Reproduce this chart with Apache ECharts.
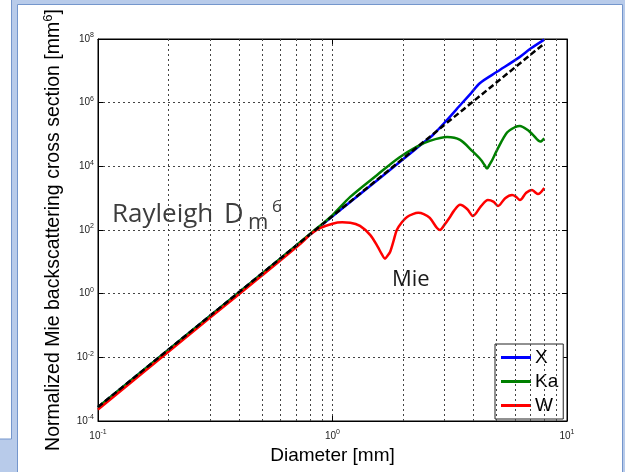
<!DOCTYPE html>
<html>
<head>
<meta charset="utf-8">
<script src="https://cdn.jsdelivr.net/npm/echarts@6/dist/echarts.min.js"></script>
<style>
html,body{margin:0;padding:0;background:#fff;}
#chart{width:625px;height:472px;}
</style>
</head>
<body>
<div id="chart"></div>
<script>
// ---- Data (Diameter [mm] -> normalized cross section [mm^6]) ----
const rayleighD   = [0.1, 8.0];
const rayleighVal = [2.75e-4, 7.2e7];

const xBandD   = [0.1, 0.5, 1.0, 1.6, 2.0, 2.43, 2.68, 3.08, 3.57, 3.9, 4.26, 5.03, 6.3, 7.0, 8.0];
const xBandVal = [2.7e-4, 4.27, 269, 4365, 16600, 53700, 96600, 288000, 977000, 2.0e6, 4.17e6, 9.33e6, 2.75e7, 5.0e7, 9.55e7];

const kaBandD   = [0.1, 0.5, 0.86, 1.0, 1.19, 1.55, 1.92, 2.29, 2.6, 3.08, 3.5, 3.97, 4.3, 4.45, 4.56, 4.67, 4.8, 5.03, 5.55, 6.0, 6.3, 6.8, 7.16, 7.7, 8.0];
const kaBandVal = [2.7e-4, 4.27, 115, 295, 1096, 5370, 18620, 41690, 63100, 83180, 67600, 28840, 15850, 10960, 8510, 11220, 15850, 32360, 114800, 169800, 186200, 138000, 97700, 60260, 75860];

const wBandD   = [0.1, 0.3, 0.5, 0.73, 0.8, 0.88, 1.0, 1.1, 1.19, 1.31, 1.45, 1.56, 1.62, 1.675, 1.72, 1.76, 1.82, 1.88, 1.98, 2.08, 2.2, 2.32, 2.45, 2.6, 2.79, 2.87, 3.0, 3.17, 3.3, 3.5, 3.75, 3.97, 4.3, 4.6, 4.85, 5.08, 5.45, 5.83, 6.05, 6.3, 6.7, 7.09, 7.3, 7.52, 8.0];
const wBandVal = [2.29e-4, 0.174, 3.72, 37.2, 69.2, 112, 158, 174, 170, 135, 69.2, 29.5, 17.8, 12.6, 15.8, 20.4, 44.7, 100, 178, 257, 316, 347, 316, 240, 115, 100, 145, 257, 407, 617, 457, 275, 562, 871, 776, 569, 1000, 1259, 1122, 871, 1479, 1820, 1549, 1349, 2089];

const seriesNames = ['X', 'Ka', 'W'];
const xMinorGrid = [0.2, 0.3, 0.4, 0.5, 0.6, 0.7, 0.8, 0.9, 2, 3, 4, 5, 6, 7, 8, 9];
const xTickMin = 0.1, xTickMax = 10;
const yTickMin = 1e-4, yTickMax = 1e8, yDecadeStep = 2;

const zip = (a, b) => a.map((v, i) => [v, b[i]]);

const chart = echarts.init(document.getElementById('chart'), null, {renderer: 'canvas'});
const AX = '"Liberation Sans", Arial, sans-serif';
const expLabel = v => {
  const e = Math.round(Math.log10(v));
  return '{b|10}{s|' + e + '}';
};
const tickRich = {
  b: {fontSize: 10, lineHeight: 14, fontFamily: AX, color: '#222'},
  s: {fontSize: 7, lineHeight: 8, verticalAlign: 'top', fontFamily: AX, color: '#222'}
};
const gridLine = {show: true, lineStyle: {color: '#444', width: 1, type: [2, 3]}};

const option = {
  backgroundColor: '#b8cbea',
  animation: false,
  graphic: [
    {type: 'rect', z: -100, shape: {x: -2, y: -2, width: 13.5, height: 441}, style: {fill: '#ffffff', stroke: '#7496cc', lineWidth: 1}},
    {type: 'rect', z: -100, shape: {x: 17.5, y: 4.5, width: 605, height: 470}, style: {fill: '#ffffff', stroke: '#7496cc', lineWidth: 1}},
    {type: 'text', z: 100, x: 112, y: 215, style: {text: 'Rayleigh', font: '26px "Open Sans"', fill: '#3d3d3d', verticalAlign: 'middle'}},
    {type: 'text', z: 100, x: 224, y: 215, style: {text: 'D', font: '27px "Open Sans"', fill: '#3d3d3d', verticalAlign: 'middle'}},
    {type: 'text', z: 100, x: 248, y: 223, style: {text: 'm', font: '22px "Open Sans"', fill: '#3d3d3d', verticalAlign: 'middle'}},
    {type: 'text', z: 100, x: 272, y: 207, style: {text: '6', font: '17px "Open Sans"', fill: '#3d3d3d', verticalAlign: 'middle'}},
    {type: 'text', z: 100, x: 392, y: 280, style: {text: 'Mie', font: '22px "Open Sans"', fill: '#1a1a1a', verticalAlign: 'middle'}}
  ],
  grid: {left: 98, right: 58, top: 39, bottom: 51, show: true, backgroundColor: '#fff', borderColor: '#000', borderWidth: 1},
  legend: {
    data: seriesNames,
    orient: 'vertical', left: 495, top: 344,
    backgroundColor: '#fff', borderColor: '#222', borderWidth: 1,
    padding: [4, 5, 4, 6],
    icon: 'rect', itemWidth: 30, itemHeight: 3, itemGap: 5,
    textStyle: {fontFamily: AX, fontSize: 19, color: '#000', lineHeight: 19, padding: [0, 0, 0, -1]}
  },
  xAxis: [
    {type: 'log', logBase: 10, min: xTickMin, max: xTickMax, position: 'bottom',
     name: 'Diameter [mm]', nameLocation: 'middle', nameGap: 20,
     nameTextStyle: {fontFamily: AX, fontSize: 19, color: '#000'},
     axisLine: {show: true, lineStyle: {color: '#000'}},
     axisTick: {show: true, inside: true, length: 5, lineStyle: {color: '#000'}},
     axisLabel: {formatter: expLabel, rich: tickRich, margin: 8},
     splitLine: gridLine},
    {type: 'log', logBase: 10, min: xTickMin, max: xTickMax, position: 'top',
     axisLine: {show: true, lineStyle: {color: '#000'}},
     axisTick: {show: true, inside: true, length: 5, lineStyle: {color: '#000'}},
     axisLabel: {show: false}, splitLine: {show: false}}
  ],
  yAxis: [
    {type: 'log', logBase: 10, min: yTickMin, max: yTickMax, interval: yDecadeStep, splitNumber: 6,
     name: 'Normalized Mie backscattering cross section [mm{s|6}]', nameLocation: 'middle', nameGap: 25,
     nameTextStyle: {fontFamily: AX, fontSize: 19.5, color: '#000', lineHeight: 24,
       rich: {s: {fontFamily: AX, fontSize: 13, lineHeight: 13, verticalAlign: 'top', color: '#000'}}},
     axisLine: {show: true, lineStyle: {color: '#000'}},
     axisTick: {show: true, inside: true, length: 5, lineStyle: {color: '#000'}},
     axisLabel: {formatter: expLabel, rich: tickRich, margin: 4},
     splitLine: gridLine},
    {type: 'log', logBase: 10, min: yTickMin, max: yTickMax, interval: yDecadeStep, splitNumber: 6, position: 'right',
     axisLine: {show: true, lineStyle: {color: '#000'}},
     axisTick: {show: true, inside: true, length: 5, lineStyle: {color: '#000'}},
     axisLabel: {show: false}, splitLine: {show: false}}
  ],
  series: [
    {name: 'minorGrid', type: 'line', data: [], silent: true, showSymbol: false,
     markLine: {silent: true, symbol: ['none', 'none'], label: {show: false},
       lineStyle: {color: '#444', width: 1, type: [2, 3]},
       data: xMinorGrid.map(v => ({xAxis: v}))}},
    {name: 'X', type: 'line', data: zip(xBandD, xBandVal), showSymbol: false, smooth: 0.3,
     color: '#0000ff', lineStyle: {width: 2.5, color: '#0000ff'}},
    {name: 'Ka', type: 'line', data: zip(kaBandD, kaBandVal), showSymbol: false, smooth: 0.3,
     color: '#008000', lineStyle: {width: 2.5, color: '#008000'}},
    {name: 'W', type: 'line', data: zip(wBandD, wBandVal), showSymbol: false, smooth: 0.3,
     color: '#ff0000', lineStyle: {width: 2.5, color: '#ff0000'}},
    {name: 'Rayleigh', type: 'line', data: zip(rayleighD, rayleighVal), showSymbol: false,
     color: '#000', lineStyle: {width: 2.5, color: '#000', type: [6, 3]}}
  ]
};
chart.setOption(option);
</script>
</body>
</html>
